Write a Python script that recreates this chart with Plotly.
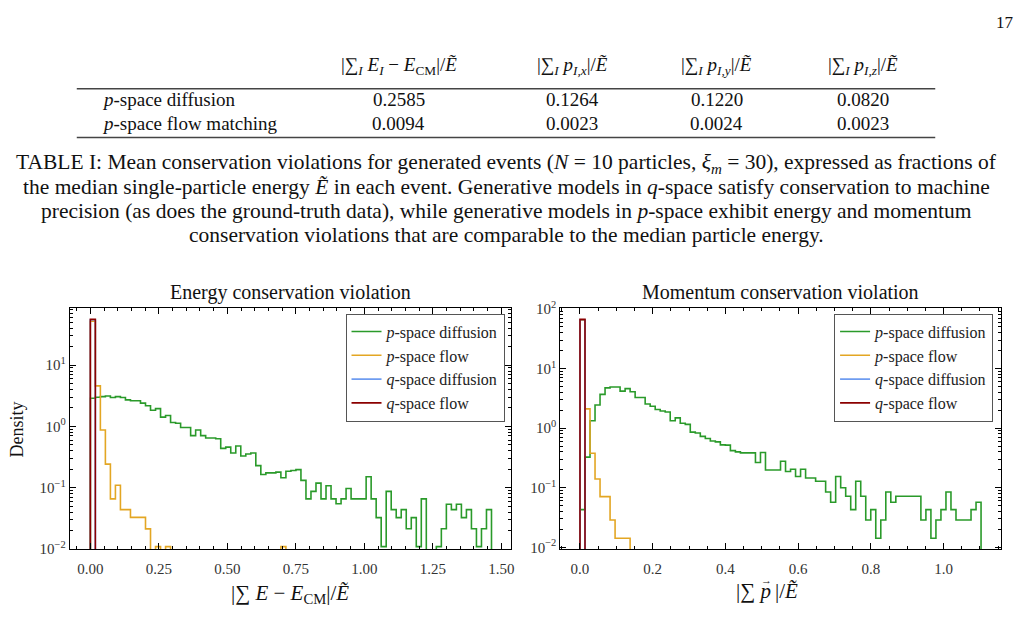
import numpy as np
import plotly.graph_objects as go

# ---------------- data ----------------
table_columns = ["|∑<sub><i>I</i></sub> <i>E<sub>I</sub></i> − <i>E</i><sub>CM</sub>|/<i>Ẽ</i>",
                 "|∑<sub><i>I</i></sub> <i>p<sub>I,x</sub></i>|/<i>Ẽ</i>",
                 "|∑<sub><i>I</i></sub> <i>p<sub>I,y</sub></i>|/<i>Ẽ</i>",
                 "|∑<sub><i>I</i></sub> <i>p<sub>I,z</sub></i>|/<i>Ẽ</i>"]
table_rows = ["<i>p</i>-space diffusion", "<i>p</i>-space flow matching"]
table_diffusion = ["0.2585", "0.1264", "0.1220", "0.0820"]
table_flow = ["0.0094", "0.0023", "0.0024", "0.0023"]

caption_lines = [
    "TABLE I: Mean conservation violations for generated events (<i>N</i> = 10 particles, <i>ξ<sub>m</sub></i> = 30), expressed as fractions of",
    "the median single-particle energy <i>Ẽ</i> in each event. Generative models in <i>q</i>-space satisfy conservation to machine",
    "precision (as does the ground-truth data), while generative models in <i>p</i>-space exhibit energy and momentum",
    "conservation violations that are comparable to the median particle energy.",
]

series_names = ["<i>p</i>-space diffusion", "<i>p</i>-space flow",
                "<i>q</i>-space diffusion", "<i>q</i>-space flow"]

n_bins = 80
energy_max = 1.464
momentum_max = 1.103

energy_p_diffusion = [2.89, 2.99, 3.07, 3.14, 2.97, 3.07, 2.97, 2.71, 2.62, 2.62,
                      2.40, 2.18, 1.84, 1.95, 1.42, 1.51, 1.16, 1.13, 0.96, 0.96,
                      0.71, 0.875, 0.71, 0.65, 0.65, 0.63, 0.44, 0.46, 0.37, 0.48,
                      0.33, 0.355, 0.37, 0.23, 0.165, 0.175, 0.175, 0.18, 0.146, 0.186,
                      0.191, 0.198, 0.132, 0.066, 0.0875, 0.119, 0.066, 0.108, 0.066, 0.055,
                      0.066, 0.0975, 0.066, 0.066, 0.066, 0.151, 0.066, 0.0326, 0.011, 0.0875,
                      0.044, 0.0326, 0.044, 0.0215, 0.0326, 0.011, 0.066, 0, 0, 0.011,
                      0.0215, 0.054, 0.044, 0.054, 0.0326, 0.044, 0.0215, 0.011, 0.0215, 0.044]
energy_p_flow = [51.8, 4.59, 0.875, 0.243, 0.066, 0.110, 0.044, 0.044, 0.033, 0.033,
                 0.033, 0.0214, 0, 0.011, 0, 0.011, 0, 0, 0, 0,
                 0, 0, 0, 0, 0, 0, 0, 0, 0, 0,
                 0, 0, 0, 0, 0, 0, 0, 0, 0.011, 0]
energy_q_diffusion = [55.0]
energy_q_flow = [55.7]

momentum_p_diffusion = [0.043, 0.327, 1.33, 2.45, 3.70, 4.74, 4.92, 4.92, 4.19, 4.62,
                        4.08, 3.27, 3.27, 2.55, 2.33, 2.06, 1.94, 1.87, 1.33, 1.49,
                        1.21, 1.16, 0.86, 0.83, 0.73, 0.67, 0.61, 0.59, 0.525, 0.52,
                        0.42, 0.40, 0.385, 0.385, 0.385, 0.265, 0.39, 0.199, 0.199, 0.199,
                        0.278, 0.187, 0.204, 0.155, 0.204, 0.146, 0.146, 0.129, 0.129, 0.085,
                        0.057, 0.155, 0.100, 0.072, 0.043, 0.129, 0.072, 0.0288, 0.043, 0.0142,
                        0.0288, 0.085, 0.057, 0.072, 0.072, 0.072, 0.072, 0.072, 0.0288, 0.043,
                        0.0142, 0.0288, 0.043, 0.085, 0.043, 0.0288, 0.0288, 0.0288, 0.043, 0.057]
momentum_p_flow = [65.0, 2.11, 0.38, 0.140, 0.071, 0.071, 0.0288, 0.0142, 0.0142, 0.0142]
momentum_q_diffusion = [66.0]
momentum_q_flow = [67.0]

colors = ["#2a9a2a", "#e3a623", "#6f9cf0", "#8b0000"]

W, H = 1021, 635
FONT = "Liberation Serif"


def px(x):
    return x / W


def py(y):
    return 1 - y / H


def padded(vals):
    arr = np.zeros(n_bins)
    arr[:len(vals)] = vals
    return arr


def step_xy(edges, heights, floor=1e-6):
    h = np.where(np.asarray(heights) > 0, heights, floor)
    x = np.concatenate([[edges[0]], edges[:-1], [edges[-1], edges[-1]]])
    y = np.concatenate([[floor], h, [h[-1], floor]])
    return x, y


fig = go.Figure()

panels = [
    (np.linspace(0, energy_max, n_bins + 1),
     [energy_p_diffusion, energy_p_flow, energy_q_diffusion, energy_q_flow], "x", "y", "legend"),
    (np.linspace(0, momentum_max, n_bins + 1),
     [momentum_p_diffusion, momentum_p_flow, momentum_q_diffusion, momentum_q_flow], "x2", "y2", "legend2"),
]
for edges, series, xa, ya, leg in panels:
    for name, vals, col in zip(series_names, series, colors):
        x, y = step_xy(edges, padded(vals))
        fig.add_trace(go.Scatter(x=x, y=y, mode="lines", line=dict(color=col, width=1.6, shape="hv"),
                                 name=name, xaxis=xa, yaxis=ya, legend=leg))

axis_common = dict(showline=True, linecolor="black", linewidth=1, mirror="ticks",
                   ticks="inside", ticklen=6, tickwidth=1, tickcolor="black",
                   showgrid=False, zeroline=False,
                   tickfont=dict(family=FONT, size=15, color="#333"))

ydom = [py(555), py(307.3)]
ylog_minor = [m * 10.0 ** e for e in range(-3, 3) for m in range(2, 10)]
ytv = [0.01, 0.1, 1, 10, 100]
ytt = ["10<sup>−2</sup>", "10<sup>−1</sup>", "10<sup>0</sup>", "10<sup>1</sup>", "10<sup>2</sup>"]

fig.update_layout(
    width=W, height=H, margin=dict(l=0, r=0, t=0, b=0), autosize=False,
    paper_bgcolor="white", plot_bgcolor="white", showlegend=True,
    font=dict(family=FONT, color="#222"),
    xaxis=dict(domain=[px(70), px(513)], range=[-0.075, 1.537], tickvals=[0, 0.25, 0.5, 0.75, 1.0, 1.25, 1.5],
               tickformat=".2f", ticklabelstandoff=6,
               minor=dict(ticks="inside", ticklen=3, tick0=0, dtick=0.05, tickcolor="black"),
               anchor="y", **axis_common),
    yaxis=dict(domain=ydom, type="log", range=[-2, 1.93], tickvals=ytv, ticktext=ytt,
               minor=dict(ticks="inside", ticklen=3, tickvals=ylog_minor, tickcolor="black"),
               anchor="x", **axis_common),
    xaxis2=dict(domain=[px(562), px(1004)], range=[-0.054, 1.158], tickvals=[0, 0.2, 0.4, 0.6, 0.8, 1.0],
                tickformat=".1f", ticklabelstandoff=6,
                minor=dict(ticks="inside", ticklen=3, tick0=0, dtick=0.05, tickcolor="black"),
                anchor="y2", **axis_common),
    yaxis2=dict(domain=ydom, type="log", range=[-2.03, 2.016], tickvals=ytv, ticktext=ytt,
                minor=dict(ticks="inside", ticklen=3, tickvals=ylog_minor, tickcolor="black"),
                anchor="x2", **axis_common),
    legend=dict(x=px(506), y=py(313), xanchor="right", yanchor="top", bgcolor="white",
                bordercolor="#555", borderwidth=1, font=dict(family=FONT, size=16, color="#222")),
    legend2=dict(x=px(996), y=py(313), xanchor="right", yanchor="top", bgcolor="white",
                 bordercolor="#555", borderwidth=1, font=dict(family=FONT, size=16, color="#222")),
)

ann = []


def text(x, y, s, size=16, xanchor="center", angle=0):
    ann.append(dict(x=px(x), y=py(y), xref="paper", yref="paper", text=s, showarrow=False,
                    xanchor=xanchor, yanchor="middle", textangle=angle,
                    font=dict(family=FONT, size=size, color="#111")))


# page number
text(1008, 14, "17", size=17)

# table
col_x = [400, 574, 719, 866]
for cx, c in zip(col_x, table_columns):
    text(cx, 59, c, size=19)
text(100, 93, table_rows[0], size=19, xanchor="left")
text(100, 118, table_rows[1], size=19, xanchor="left")
for cx, v in zip(col_x, table_diffusion):
    text(cx, 93, v, size=19)
for cx, v in zip(col_x, table_flow):
    text(cx, 118, v, size=19)

fig.add_shape(type="line", xref="paper", yref="paper", x0=px(77), x1=px(938), y0=py(82), y1=py(82),
              line=dict(color="#444", width=1.5))
fig.add_shape(type="line", xref="paper", yref="paper", x0=px(77), x1=px(938), y0=py(132), y1=py(132),
              line=dict(color="#444", width=1.5))

# caption
for i, line in enumerate(caption_lines):
    text(508, 159 + i * 24.4, line, size=21.5)

# plot titles / axis titles
text(291, 291, "Energy conservation violation", size=20)
text(783, 291, "Momentum conservation violation", size=20)
text(17, 432, "Density", size=18, angle=-90)
text(291, 601, "|∑ <i>E</i> − <i>E</i><sub>CM</sub>|/<i>Ẽ</i>", size=21)
# momentum axis title split so an arrow can be set over the p
text(775, 598, "|∑ <i>p</i>", size=21, xanchor="right")
text(775, 598, "|/<i>Ẽ</i>", size=21, xanchor="left")
text(769, 587, "→", size=11)

fig.update_layout(annotations=ann)
fig.write_html("out.html")
